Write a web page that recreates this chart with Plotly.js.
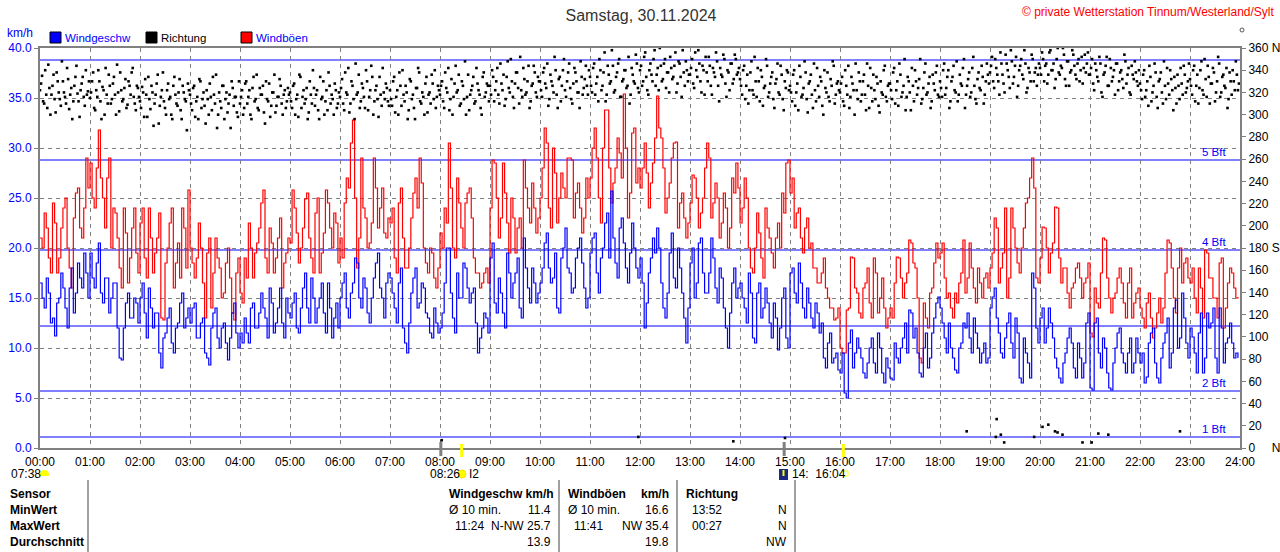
<!DOCTYPE html>
<html><head><meta charset="utf-8">
<script src="https://cdn.plot.ly/plotly-3.0.1.min.js"></script>
<style>html,body{margin:0;padding:0;background:#fff;overflow:hidden}#chart{width:1280px;height:552px}</style>
</head><body><div id="chart"></div>
<script>
// ---------- data ----------
const hourLabels = ['00:00','01:00','02:00','03:00','04:00','05:00','06:00','07:00','08:00','09:00','10:00','11:00','12:00','13:00','14:00','15:00','16:00','17:00','18:00','19:00','20:00','21:00','22:00','23:00','24:00'];
const speedStepMin = 2.5;   // sampling of speed/gust series (minutes)
const dirStepMin = 2.5;     // sampling of direction series (minutes)
const dirOffsetB = 1.25;    // second direction reading offset (minutes)

const windSpeed = [
16.5,15.0,14.0,17.0,15.5,12.5,13.0,11.2,14.5,15.0,17.5,16.0,14.0,12.0,16.0,18.0,13.5,15.5,18.5,17.0,16.0,19.5,17.5,15.0,
19.5,17.0,16.0,18.5,20.5,15.5,14.5,17.0,17.0,13.5,15.0,16.5,16.5,12.0,9.0,8.8,12.0,14.5,15.5,13.0,13.0,15.0,14.5,12.5,
15.0,16.5,13.5,11.0,16.0,14.0,12.0,13.5,13.5,9.5,8.0,11.0,11.5,13.0,14.0,10.5,9.5,12.0,12.5,14.5,15.5,12.0,13.0,14.0,
12.5,14.0,14.5,11.0,11.0,12.5,13.0,9.5,9.0,8.3,12.0,13.5,14.0,11.0,10.0,12.0,12.5,10.5,8.8,11.0,13.5,14.5,11.5,10.0,
11.5,10.5,13.0,11.5,10.5,14.0,14.5,12.0,12.0,13.5,15.5,14.0,13.0,11.0,16.0,14.5,11.5,12.5,14.0,16.0,12.5,11.0,15.0,13.5,
13.0,14.5,15.5,12.0,11.5,14.0,16.0,17.5,14.0,12.5,17.0,15.0,12.5,14.0,15.0,16.5,13.5,11.5,16.5,14.0,11.0,13.0,14.5,12.0,
15.0,16.5,17.5,14.0,13.0,15.5,16.5,19.0,18.5,15.0,14.0,17.0,16.0,13.5,12.5,15.0,17.0,18.5,19.5,16.0,15.0,13.0,16.5,17.5,
17.0,15.5,14.0,12.5,16.5,18.0,12.0,10.5,9.5,12.5,15.5,17.0,18.0,14.0,14.5,16.5,16.0,13.5,13.0,11.5,11.0,14.0,12.5,11.5,
12.0,13.5,16.5,20.0,20.0,15.5,13.0,11.5,17.5,15.0,15.0,18.5,18.0,16.0,14.5,15.5,16.0,12.5,9.5,11.0,12.0,13.5,13.0,11.5,
19.0,20.5,14.5,13.5,17.0,15.5,13.5,12.0,19.5,17.5,15.0,16.5,17.5,19.0,14.0,13.0,21.0,18.0,16.0,14.5,18.0,16.5,14.5,15.5,
16.5,18.0,20.5,21.5,18.0,16.5,17.0,19.5,14.0,13.5,19.0,20.0,22.0,18.0,17.5,15.5,16.0,19.0,20.0,21.0,18.5,16.0,14.0,15.0,
19.5,21.0,21.5,17.5,15.5,19.0,20.0,22.5,23.5,19.0,25.7,21.0,18.5,17.0,22.0,23.0,20.5,18.0,16.5,19.5,22.5,20.0,18.0,17.0,
19.0,16.5,12.0,14.5,17.5,19.0,21.0,19.5,22.0,20.0,16.5,14.0,13.0,15.5,19.5,21.5,17.0,16.0,20.0,18.0,15.5,13.0,10.5,14.0,
18.5,20.0,15.0,16.5,20.5,21.0,17.5,15.5,15.5,17.5,21.0,19.0,16.0,14.5,18.0,17.0,14.0,12.0,10.0,13.5,16.5,18.0,15.0,16.0,
16.5,15.0,14.0,12.5,17.5,15.5,11.0,10.5,15.5,16.5,13.0,14.0,16.0,14.5,12.5,11.0,14.5,13.0,9.8,12.0,15.0,16.0,11.0,10.0,
17.5,18.0,15.5,14.5,18.5,16.5,14.0,13.0,16.0,14.5,13.0,12.0,14.5,13.5,11.5,12.5,9.0,8.0,10.5,11.5,8.5,9.0,9.5,7.8,
7.5,9.5,5.5,5.0,10.5,11.8,8.0,9.5,11.0,10.0,9.0,7.5,7.0,8.5,10.0,11.0,8.5,7.5,11.5,10.0,7.5,6.5,9.0,8.0,
7.0,6.8,10.5,9.0,8.5,10.0,11.0,12.5,9.5,13.8,13.5,11.0,12.0,9.5,7.5,7.1,10.0,11.5,8.0,9.0,11.5,13.0,14.5,15.1,
14.0,12.5,11.0,9.5,12.5,10.0,9.0,7.8,7.5,10.0,10.5,12.5,12.0,13.5,11.0,9.5,13.0,11.5,10.0,8.5,9.5,10.5,8.5,9.0,
14.0,15.1,16.0,13.0,11.5,9.5,9.0,11.0,12.5,13.5,10.5,9.0,13.0,11.5,7.0,6.5,11.0,9.5,8.5,7.0,17.5,16.0,12.0,10.5,
13.0,14.0,10.5,12.0,14.0,12.5,11.0,9.0,8.0,7.0,6.5,8.5,9.5,11.0,12.0,10.5,8.0,7.0,10.5,9.0,7.0,8.5,12.5,13.5,
6.0,5.8,12.5,13.0,9.5,8.0,11.0,10.0,7.5,6.0,5.8,8.5,10.0,11.5,12.0,9.5,8.5,7.5,9.5,11.0,7.5,8.5,11.0,9.5,
8.5,9.5,6.5,7.1,10.5,11.5,12.0,8.5,7.0,6.5,9.0,10.5,11.5,13.0,8.0,9.5,14.0,14.8,10.0,11.0,15.5,13.0,10.5,9.0,
12.0,11.1,9.5,7.5,11.5,13.5,7.5,9.0,13.5,12.0,12.5,14.0,9.0,7.5,14.0,12.0,8.5,10.5,11.0,12.5,10.5,9.0,9.5,9.0];

const windGust = [
21.0,20.0,23.5,22.0,19.0,17.5,24.5,22.5,17.5,19.0,22.0,24.0,25.0,20.0,18.0,16.0,23.0,25.5,26.0,22.0,21.0,24.0,29.0,26.0,
28.5,25.0,24.0,28.0,31.8,27.0,25.0,22.0,27.0,29.0,20.0,24.0,23.5,21.0,18.0,16.0,24.0,21.5,16.5,19.0,22.0,24.0,19.5,17.5,
22.5,24.0,19.0,17.0,24.0,21.0,17.5,19.5,21.0,23.5,13.0,12.8,18.5,20.0,22.5,24.0,16.0,18.5,20.5,17.0,24.0,22.0,18.0,25.8,
20.0,18.5,17.0,19.0,22.5,20.0,16.5,13.0,19.5,21.0,14.0,17.5,21.0,19.0,18.0,15.0,15.5,18.5,20.0,17.0,13.5,12.8,17.5,19.0,
15.5,14.5,19.0,17.0,22.5,20.0,17.0,19.5,20.5,22.0,24.5,25.8,19.0,17.5,22.0,20.5,17.5,19.0,21.0,23.0,16.0,18.5,19.5,21.0,
20.5,25.8,24.0,21.5,18.5,20.0,22.0,24.9,25.5,21.0,19.0,17.5,23.5,25.0,17.5,19.5,21.5,25.8,24.5,22.0,20.0,23.5,22.5,18.5,
21.0,19.0,24.5,27.0,26.0,30.5,32.8,25.0,18.0,21.0,29.0,24.0,23.0,20.0,20.5,22.5,29.0,26.0,22.0,24.0,26.0,21.5,21.0,23.0,
22.5,24.0,19.0,17.5,24.5,26.0,21.0,18.0,18.0,20.0,23.0,25.5,27.0,24.0,29.0,26.5,20.0,18.5,17.5,20.0,19.5,17.0,16.0,18.0,
21.5,20.0,24.0,22.5,30.5,26.0,20.0,19.0,27.0,24.5,22.0,20.0,24.5,25.5,26.0,23.0,19.0,17.5,17.5,16.0,16.5,17.5,18.0,16.5,
24.0,28.8,28.5,25.0,21.0,23.0,28.5,25.5,22.5,19.5,25.0,23.0,19.5,22.0,23.0,20.0,28.8,26.0,24.0,22.5,26.5,24.0,21.5,23.0,
25.0,28.0,32.0,30.5,24.0,22.0,30.0,27.5,22.5,25.0,27.5,26.0,25.0,29.0,29.0,28.8,23.0,25.5,26.5,24.0,21.5,23.0,27.0,25.0,
27.0,30.0,32.0,29.0,25.0,22.5,30.0,33.8,33.8,28.0,24.5,26.5,28.0,31.0,29.5,27.0,35.4,30.0,23.0,25.5,31.5,32.0,26.5,28.0,
26.0,28.0,30.5,27.5,24.0,26.5,28.5,31.0,35.2,32.0,31.0,28.0,23.5,25.0,26.5,29.0,30.5,30.6,22.0,24.5,25.5,23.0,21.0,22.5,
24.5,27.3,27.0,25.0,22.0,23.5,25.0,28.0,30.5,29.0,23.0,24.5,26.5,25.0,21.0,22.5,25.5,24.0,20.0,22.0,27.0,25.5,28.5,26.0,
22.5,24.0,27.0,25.0,20.0,18.0,17.5,20.0,23.5,21.5,19.0,17.0,24.0,22.0,21.0,19.5,18.0,21.0,22.5,20.0,25.5,23.5,28.5,28.8,
25.5,27.0,22.0,23.5,24.0,21.0,19.5,22.0,23.0,20.0,20.5,18.0,18.0,16.5,16.5,17.5,19.0,16.0,15.0,14.0,14.0,12.8,13.0,14.0,
10.0,9.5,9.5,13.8,14.0,19.1,19.0,16.0,15.5,13.5,13.0,16.0,16.5,18.0,14.5,13.0,19.0,17.5,13.5,15.0,17.0,14.0,12.0,13.0,
14.0,13.0,16.5,19.1,19.0,17.0,15.0,16.5,17.5,20.8,20.5,18.5,18.0,15.0,9.0,8.5,14.5,13.0,12.0,15.5,16.0,18.5,20.5,19.0,
19.5,20.5,17.0,15.0,15.5,14.0,13.0,15.5,14.5,16.5,17.5,20.8,15.5,17.0,20.5,18.0,16.0,14.5,18.0,16.5,15.0,17.0,17.5,16.0,
18.0,19.5,23.0,22.0,16.5,18.0,19.5,24.0,15.0,17.0,24.0,22.0,20.0,18.5,17.5,20.0,22.0,24.5,25.0,27.0,29.0,26.0,17.0,16.5,
19.0,22.1,22.0,20.0,17.5,19.5,20.5,24.1,24.0,19.0,16.5,18.0,18.0,15.5,14.0,16.0,16.5,18.0,18.5,17.0,15.0,16.5,17.0,18.5,
11.5,11.1,16.0,14.5,14.0,17.5,21.0,20.8,17.0,15.0,13.5,15.0,15.5,17.0,18.0,16.5,14.5,13.0,16.5,18.0,13.0,14.5,15.5,16.0,
14.0,13.0,12.0,14.5,15.5,13.0,11.0,12.0,13.5,15.0,12.5,14.0,17.5,20.8,20.5,18.0,15.0,13.5,18.0,20.0,16.5,18.5,19.0,17.0,
16.5,18.0,15.0,13.5,18.0,16.0,13.0,19.8,19.5,17.0,17.0,15.0,15.0,13.0,18.5,19.0,12.0,14.0,16.5,18.0,17.5,16.0,15.0,15.1];

const windDir = [
322,335,310,318,345,300,326,314,338,320,308,330,316,342,305,324,312,334,319,298,328,316,340,321,
315,330,306,322,340,312,325,300,318,336,310,328,318,345,303,322,314,332,309,326,338,316,304,324,
312,325,298,318,334,305,320,310,328,292,316,338,306,322,314,300,326,318,308,332,296,320,312,328,
318,304,326,312,296,330,314,308,322,300,316,334,310,288,320,306,326,314,302,318,330,308,316,298,
310,322,306,330,316,300,324,312,336,304,318,326,292,314,328,308,320,302,316,332,310,318,306,324,
320,306,328,314,298,334,316,310,324,302,318,340,308,322,296,314,330,312,304,326,318,300,322,310,
316,332,304,320,342,310,326,296,318,336,312,324,306,330,316,344,300,322,314,334,308,320,328,312,
322,308,334,316,300,326,340,312,320,304,330,318,296,324,338,310,316,328,302,320,336,314,306,326,
318,330,306,324,342,314,300,328,320,336,310,326,348,316,304,322,334,312,328,318,300,338,320,326,
326,340,312,330,318,346,322,308,334,324,350,316,328,338,310,322,342,318,330,306,326,344,320,334,
330,316,342,324,308,336,326,352,318,332,312,340,322,330,346,314,328,338,320,306,334,324,344,318,
334,320,346,328,312,340,326,356,318,336,330,344,322,338,350,316,332,340,326,310,342,330,354,324,
340,326,352,334,318,346,330,358,336,322,344,332,350,338,320,342,334,356,328,346,316,338,348,330,
336,350,324,340,358,330,344,318,338,352,326,342,334,348,312,336,354,328,340,322,346,332,350,338,
332,318,344,326,310,338,322,352,316,330,340,308,326,344,320,334,314,328,346,318,336,304,324,338,
326,312,340,320,304,334,318,348,314,328,336,306,322,342,316,330,300,324,338,312,326,344,318,330,
320,334,308,326,344,316,328,300,322,338,312,330,318,346,306,324,336,314,328,302,320,340,316,326,
328,314,342,322,308,336,320,350,316,330,304,326,340,318,332,310,324,346,320,334,312,328,338,318,
330,316,346,324,340,312,334,322,348,318,328,342,306,326,338,320,352,314,332,324,344,310,330,336,
338,352,324,342,330,356,336,320,346,334,358,328,344,316,340,350,332,346,324,338,354,330,342,336,
342,356,330,346,336,358,340,324,350,338,344,360,332,348,326,340,354,336,346,330,352,342,338,356,
336,350,322,340,330,346,316,338,352,326,342,334,318,346,330,340,324,348,336,320,344,332,338,326,
328,314,340,322,308,334,320,346,316,330,338,310,326,342,318,332,304,324,336,314,328,344,320,330,
332,318,344,326,310,340,322,350,316,334,328,342,312,330,346,320,336,324,306,338,318,330,348,322];

const windDirB = [
328,312,340,306,324,318,336,302,330,314,348,320,310,332,318,296,326,344,312,322,334,308,318,330,
320,338,304,316,330,296,322,342,310,326,314,334,300,320,338,312,324,306,330,318,342,310,326,316,
306,320,332,298,314,326,290,318,336,308,322,312,300,328,316,296,334,310,320,304,326,314,286,322,
310,324,298,316,332,306,320,292,314,328,304,318,336,300,312,326,296,320,310,288,324,316,302,330,
316,300,328,310,322,296,334,314,306,324,318,302,330,312,298,320,336,308,316,326,300,322,312,318,
312,326,300,318,336,306,322,314,296,330,310,324,318,304,334,316,300,322,338,310,314,328,306,320,
324,310,338,318,302,330,314,346,320,306,328,316,340,304,322,334,312,326,298,318,342,314,324,308,
314,330,302,322,338,308,318,326,296,332,314,306,324,342,312,320,300,334,318,310,328,340,316,322,
326,312,338,320,304,332,316,344,322,308,330,314,300,336,318,326,310,342,322,306,334,316,328,312,
318,334,322,342,310,328,336,314,348,320,330,306,338,324,352,316,332,320,344,312,328,338,316,330,
322,338,328,346,314,330,320,340,306,334,326,350,316,338,324,310,342,330,320,348,318,332,326,340,
326,342,318,334,350,322,338,312,344,328,358,320,334,346,316,330,340,324,352,318,336,328,346,320,
344,330,356,322,340,336,350,326,342,360,330,346,324,338,352,332,344,320,348,334,358,326,340,336,
342,328,356,334,346,320,340,352,330,344,318,338,356,326,342,334,350,316,338,346,328,354,336,342,
326,340,314,336,322,348,318,330,342,312,334,324,350,316,328,338,306,332,320,344,314,330,340,322,
320,336,308,328,344,316,324,338,302,330,318,346,312,326,334,308,340,320,316,332,348,310,328,322,
328,312,340,318,306,334,322,346,314,330,318,336,304,326,342,312,322,334,308,330,318,344,312,328,
322,338,310,330,346,316,326,304,334,320,342,312,330,324,350,314,338,318,328,306,336,322,344,316,
324,340,318,334,306,330,344,320,312,336,326,350,318,332,316,342,326,310,338,322,334,318,346,328,
344,330,350,336,318,346,328,354,340,324,348,334,352,326,344,336,358,320,342,330,350,338,326,346,
336,350,344,328,356,340,346,332,360,336,342,354,326,348,338,358,344,332,350,340,328,354,346,336,
342,328,346,334,352,320,336,344,326,350,330,340,346,322,338,332,354,328,342,318,336,348,330,340,
322,336,316,330,344,312,326,338,306,332,320,348,314,328,340,322,334,310,326,342,318,336,324,346,
326,340,312,336,324,348,318,332,344,310,328,338,320,352,316,334,326,342,314,330,340,322,336,328];

// readings just east of north (wrapped to 0..30 deg)
const dirNorthTimes  = [482,718,832,894,1112,1148,1147,1153,1157,1193,1203,1210,1218,1221,1227,1251,1262,1270,1282,1368];
const dirNorthValues = [7,10,6,9,15,26,10,12,5,10,19,21,15,14,12,5,5,13,12,15];

const bftLimits = [1.1,5.7,12.2,19.8,28.8,38.8];
const bftLabels = ['1 Bft','2 Bft','','4 Bft','5 Bft',''];
const dirTickVals = [0,20,40,60,80,100,120,140,160,180,200,220,240,260,280,300,320,340,360];
const dirTickText = ['0\u00a0\u00a0\u00a0\u00a0\u00a0N','20','40','60','80','100','120','140','160','180 S','200','220','240','260','280','300','320','340','360 N'];
const sunMarks = [506,964];     // sunrise / sunset
const grayMarks = [481,893];

const tableRows = ['Sensor','MinWert','MaxWert','Durchschnitt'];
const tblSpeed = {head:'Windgeschw km/h', left:['Ø 10 min.','11:24',''], right:['11.4','N-NW 25.7','13.9']};
const tblGust  = {head:'Windböen', headR:'km/h', left:['Ø 10 min.','11:41',''], right:['16.6','NW 35.4','19.8']};
const tblDir   = {head:'Richtung', left:['13:52','00:27',''], right:['N','N','NW']};

// ---------- build ----------
const FONT = 'Liberation Sans, Arial, sans-serif';
const tSpeed = windSpeed.map((_,i)=>i*speedStepMin);
const tGust  = windGust.map((_,i)=>i*speedStepMin);
const dirT = [], dirV = [];
windDir.forEach((v,i)=>{ dirT.push(i*dirStepMin); dirV.push(v); dirT.push(i*dirStepMin+dirOffsetB); dirV.push(windDirB[i]); });
dirNorthTimes.forEach((t,i)=>{ dirT.push(t); dirV.push(dirNorthValues[i]); });
const hourVals = hourLabels.map((_,i)=>i*60);

// pixel -> paper helpers (layout placement only)
const L=40,T=48,W=1200,H=400;
const px = x => (x-L)/W;
const py = y => (T+H-y)/H;

const traces = [
  {x:tGust, y:windGust, type:'scatter', mode:'lines', line:{color:'#ff0000', width:1.2, shape:'hv'}, name:'Windböen', hoverinfo:'skip'},
  {x:tSpeed, y:windSpeed, type:'scatter', mode:'lines', line:{color:'#0000ff', width:1.2, shape:'hv'}, name:'Windgeschw', hoverinfo:'skip'},
  {x:dirT, y:dirV, yaxis:'y2', type:'scatter', mode:'markers', marker:{color:'#000', size:2.6, symbol:'square', line:{width:0}}, name:'Richtung', hoverinfo:'skip'}
];

const shapes = [];
const ann = [];
bftLimits.forEach((v,i)=>{
  shapes.push({type:'line', xref:'paper', yref:'y', x0:0, x1:1, y0:v, y1:v, line:{color:'#0000ff', width:1}, layer:'below'});
  if (bftLabels[i]) ann.push({text:bftLabels[i], xref:'paper', yref:'y', x:px(1228), y:v, yshift:8, xanchor:'right', yanchor:'middle', showarrow:false, font:{family:FONT, size:11.5, color:'#0000ff'}});
});
grayMarks.forEach(t=>shapes.push({type:'line', xref:'x', yref:'paper', x0:t, x1:t, y0:py(442), y1:py(456), line:{color:'#808080', width:3}}));
sunMarks.forEach(t=>shapes.push({type:'line', xref:'x', yref:'paper', x0:t, x1:t, y0:py(444), y1:py(457), line:{color:'#ffff00', width:3}}));

function A(text,x,y,o={}){
  ann.push(Object.assign({text, xref:'paper', yref:'paper', x:px(x), y:py(y), xanchor:o.anchor||'left', yanchor:'middle', showarrow:false,
    font:{family:FONT, size:o.size||12, color:o.color||'#000'}}, o.extra||{}));
}
function R(x0,y0,x1,y1,fill,line){
  shapes.push({type:'rect', xref:'paper', yref:'paper', x0:px(x0), x1:px(x1), y0:py(y1), y1:py(y0), fillcolor:fill, line:line||{width:0}});
}
function V(x,y0,y1,c,w){shapes.push({type:'line', xref:'paper', yref:'paper', x0:px(x), x1:px(x), y0:py(y0), y1:py(y1), line:{color:c, width:w||1}});}

A('© private Wetterstation Tinnum/Westerland/Sylt', 1277, 12, {anchor:'right', color:'#ff0000', size:12});
A('km/h', 5, 33, {color:'#0000ff'});
R(50,32,61,43,'#0000ff',{color:'#000',width:1}); A('Windgeschw', 63, 38, {color:'#0000ff', size:11.5});
R(146,32,157,43,'#000000',{color:'#000',width:1}); A('Richtung', 159, 38, {color:'#000', size:11.5});
R(241,32,252,43,'#ff0000',{color:'#000',width:1}); A('Windböen', 254, 38, {color:'#0000ff', size:11.5});
shapes.push({type:'circle', xref:'paper', yref:'paper', x0:px(1240), x1:px(1244), y0:py(32), y1:py(28), line:{color:'#555',width:1}});

A('07:38', 9, 474);
shapes.push({type:'circle', xref:'paper', yref:'paper', x0:px(40), x1:px(49), y0:py(479), y1:py(470), fillcolor:'#ffff00', line:{width:0}});
R(38,476,52,481,'#ffffff');
A('08:26', 428, 474);
shapes.push({type:'circle', xref:'paper', yref:'paper', x0:px(458), x1:px(466), y0:py(478), y1:py(470), fillcolor:'#ffff00', line:{color:'#ffe000',width:1}});
A('I2', 467, 474);
R(779,469,788,480,'#1a2a80'); V(783.5,470,476,'#ffff00',2);
A('14:  16:04', 790, 474);
R(843,471,848,476,'rgba(0,0,0,0)',{color:'#ffff00',width:1});

tableRows.forEach((r,i)=>A('<b>'+r+'</b>', 8, 494+16*i));
V(88,480,552,'#808080',1.5); V(559,480,552,'#808080',1.5); V(677,480,552,'#808080',1.5); V(795,480,552,'#808080',1.5);
A('<b>'+tblSpeed.head+'</b>', 447, 494);
A('<b>'+tblGust.head+'</b>', 566, 494); A('<b>'+tblGust.headR+'</b>', 671, 494, {anchor:'right'});
A('<b>'+tblDir.head+'</b>', 684, 494);
const lx=[[447,453],[566,572],[690,690]];
[tblSpeed,tblGust,tblDir].forEach((tb,c)=>{
  const rx=[553,671,789][c];
  tb.left.forEach((s,i)=>{ if(s) A(s, i===1?lx[c][1]:lx[c][0], 510+16*i); });
  tb.right.forEach((s,i)=>{ if(s) A(s, rx, 510+16*i, {anchor:'right'}); });
});

const layout = {
  width:1280, height:552,
  margin:{l:L, r:40, t:T, b:104, pad:0},
  paper_bgcolor:'#fff', plot_bgcolor:'#fff',
  showlegend:false,
  title:{text:'Samstag, 30.11.2024', font:{family:FONT, size:16, color:'#333'}, x:px(641), xref:'paper', xanchor:'center', y:1-15/552, yref:'container', yanchor:'middle'},
  xaxis:{range:[0,1440], tickvals:hourVals, ticktext:hourLabels, showgrid:true, gridcolor:'#808080', griddash:'4px,4px', gridwidth:1,
    showline:true, linecolor:'#808080', linewidth:2, mirror:true, ticks:'', zeroline:false, ticklabelstandoff:2,
    tickfont:{family:FONT, size:12, color:'#000'}, fixedrange:true},
  yaxis:{range:[0,40], dtick:5, tick0:0, tickformat:'.1f', showgrid:true, gridcolor:'#808080', griddash:'4px,4px', gridwidth:1,
    showline:true, linecolor:'#808080', linewidth:2, mirror:true, ticks:'outside', ticklen:4, tickcolor:'#808080', zeroline:false,
    tickfont:{family:FONT, size:12, color:'#0000ff'}, fixedrange:true},
  yaxis2:{range:[0,360], overlaying:'y', side:'right', tickvals:dirTickVals, ticktext:dirTickText, showgrid:false, zeroline:false,
    showline:true, linecolor:'#808080', linewidth:2, ticks:'outside', ticklen:4, tickcolor:'#808080',
    tickfont:{family:FONT, size:12, color:'#000'}, fixedrange:true},
  shapes, annotations:ann
};
Plotly.newPlot('chart', traces, layout, {displayModeBar:false, staticPlot:true});
</script></body></html>
